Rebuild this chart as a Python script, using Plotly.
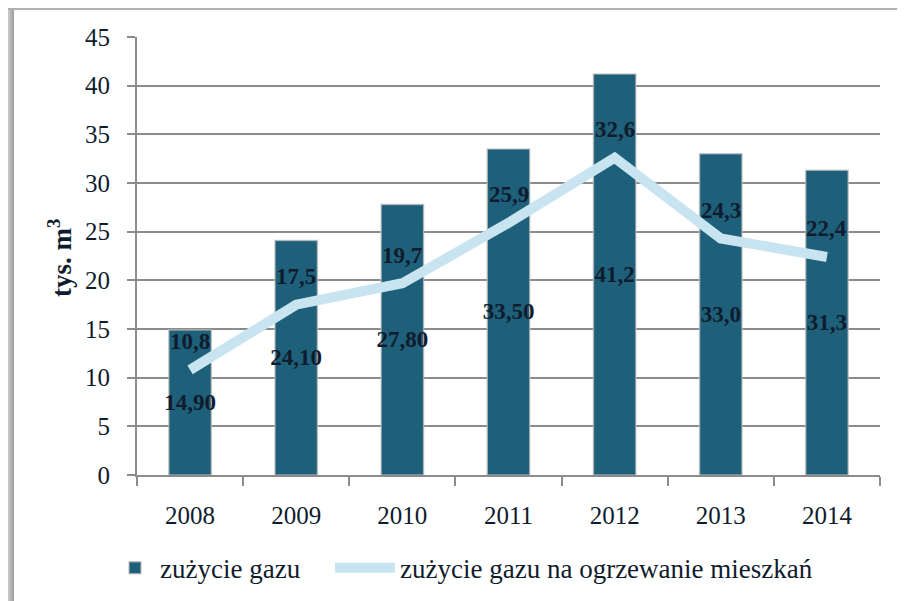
import plotly.graph_objects as go

years = ["2008", "2009", "2010", "2011", "2012", "2013", "2014"]
gas_total = [14.9, 24.1, 27.8, 33.5, 41.2, 33.0, 31.3]
gas_total_labels = ["14,90", "24,10", "27,80", "33,50", "41,2", "33,0", "31,3"]
gas_heating = [10.8, 17.5, 19.7, 25.9, 32.6, 24.3, 22.4]
gas_heating_labels = ["10,8", "17,5", "19,7", "25,9", "32,6", "24,3", "22,4"]
y_ticks = [0, 5, 10, 15, 20, 25, 30, 35, 40, 45]
y_title = "tys. m<sup>3</sup>"

FONT = "Liberation Serif"
TEXT_DARK = "#0f1c2e"
BAR_COLOR = "#1e5f79"
LINE_COLOR = "#c8e4f0"
GRID = "#8c8c8c"

# the page body adds an 8px offset; the figure is sized to compensate
W, H = 897, 593
ML, MR, MT, MB = 129, 25, 29, 126
PW, PH = W - ML - MR, H - MT - MB

fig = go.Figure()
fig.add_trace(go.Bar(
    x=years, y=gas_total, name="zużycie gazu",
    marker=dict(color=BAR_COLOR, line=dict(color="rgba(190,190,190,0.7)", width=1.5)),
    text=gas_total_labels, textposition="inside", insidetextanchor="middle",
    textangle=0, constraintext="none",
    textfont=dict(family=FONT, size=23, color=TEXT_DARK, weight="bold"),
    legend="legend",
))
fig.add_trace(go.Scatter(
    x=years, y=gas_heating, name="zużycie gazu na ogrzewanie mieszkań",
    mode="lines", line=dict(color=LINE_COLOR, width=10),
    legend="legend2",
))
for i, (v, lab) in enumerate(zip(gas_heating, gas_heating_labels)):
    fig.add_annotation(x=i, y=v, xref="x", yref="y", text="<b>%s</b>" % lab, showarrow=False,
                       yshift=28, font=dict(family=FONT, size=23, color=TEXT_DARK))

def px_x(p):
    return (p - ML) / PW

def px_y(p):
    return 1 - (p - MT) / PH

# y-axis title
fig.add_annotation(x=px_x(52), y=px_y(250), xref="paper", yref="paper",
                   text="<b>%s</b>" % y_title, textangle=-90, showarrow=False,
                   xanchor="center", yanchor="middle",
                   font=dict(family=FONT, size=27, color=TEXT_DARK))

shapes = []
left_cols = ["#c4c4c4", "#b4b4b4", "#a4a4a4"]
for i, c in enumerate(left_cols):
    shapes.append(dict(type="rect", xref="paper", yref="paper",
                       x0=px_x(i * 2), x1=px_x(i * 2 + 2), y0=px_y(H), y1=px_y(0),
                       fillcolor=c, line=dict(width=0), layer="below"))
top_cols = ["#b0b0b0"]
for i, c in enumerate(top_cols):
    shapes.append(dict(type="rect", xref="paper", yref="paper",
                       x0=px_x(0), x1=px_x(W), y0=px_y(i * 2 + 2), y1=px_y(i * 2),
                       fillcolor=c, line=dict(width=0), layer="below"))

leg_y = -0.213
fig.update_layout(
    width=W, height=H,
    margin=dict(l=ML, r=MR, t=MT, b=MB, autoexpand=False),
    paper_bgcolor="white", plot_bgcolor="white",
    bargap=0.6,
    shapes=shapes,
    font=dict(family=FONT, color=TEXT_DARK),
    showlegend=True,
    legend=dict(orientation="h", x=px_x(102), xanchor="left", y=leg_y, yanchor="middle",
                font=dict(family=FONT, size=27, color=TEXT_DARK),
                itemwidth=40, bgcolor="rgba(0,0,0,0)"),
    legend2=dict(orientation="h", x=px_x(392 - 70), xanchor="left", y=leg_y, yanchor="middle",
                 font=dict(family=FONT, size=27, color=TEXT_DARK),
                 itemwidth=60, bgcolor="rgba(0,0,0,0)"),
    xaxis=dict(
        type="category", range=[-0.5, len(years) - 0.5], automargin=False,
        tickfont=dict(family=FONT, size=25, color=TEXT_DARK),
        showline=True, linecolor=GRID, linewidth=2,
        ticks="outside", tickson="boundaries", ticklen=9, tickcolor=GRID, tickwidth=2,
        ticklabelstandoff=17,
        showgrid=False,
    ),
    yaxis=dict(
        range=[0, 45], tickvals=y_ticks, automargin=False,
        tickfont=dict(family=FONT, size=25, color=TEXT_DARK),
        showline=True, linecolor=GRID, linewidth=2,
        ticks="outside", ticklen=8, tickcolor=GRID, tickwidth=2,
        ticklabelstandoff=12,
        showgrid=True, gridcolor=GRID, gridwidth=2,
        zeroline=False,
    ),
)

fig.write_html("out.html")
